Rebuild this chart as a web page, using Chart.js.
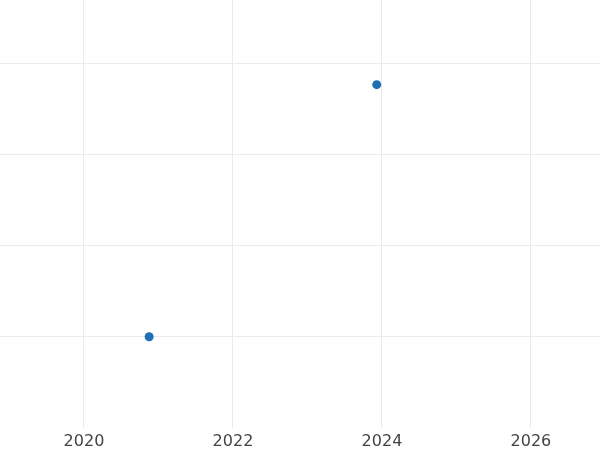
<!DOCTYPE html>
<html>
<head>
<meta charset="utf-8">
<script src="https://cdn.jsdelivr.net/npm/chart.js@4"></script>
<style>
html,body{margin:0;padding:0;background:#fff;}
#wrap{width:600px;height:450px;}
</style>
</head>
<body>
<div id="wrap"><canvas id="c" width="600" height="450"></canvas></div>
<script>
const years = [2020.875, 2023.93];
const values = [-1, 1.77];
const xTicks = [2020, 2022, 2024, 2026];

const points = years.map((x, i) => ({x: x, y: values[i]}));

new Chart(document.getElementById('c'), {
  type: 'scatter',
  data: {
    datasets: [{
      data: points,
      backgroundColor: '#1f6fb4',
      borderColor: '#1f6fb4',
      pointRadius: 4.5,
      pointHoverRadius: 4.5,
      borderWidth: 0
    }]
  },
  options: {
    responsive: false,
    animation: false,
    layout: {padding: {left: 0, right: 0, top: 0, bottom: -5}, autoPadding: false},
    plugins: {legend: {display: false}, tooltip: {enabled: false}},
    scales: {
      x: {
        type: 'linear',
        min: 2018.873,
        max: 2026.927,
        border: {display: false},
        grid: {color: '#ebebeb', lineWidth: 1, drawTicks: false},
        afterBuildTicks: (axis) => { axis.ticks = xTicks.map(v => ({value: v})); },
        ticks: {
          padding: 4,
          color: '#444444',
          font: {family: 'DejaVu Sans', size: 16},
          maxRotation: 0,
          callback: (v) => String(v)
        }
      },
      y: {
        type: 'linear',
        min: -2.0,
        max: 2.7,
        border: {display: false},
        grid: {color: '#ebebeb', lineWidth: 1, drawTicks: false},
        afterBuildTicks: (axis) => { axis.ticks = [-1, 0, 1, 2].map(v => ({value: v})); },
        ticks: {display: false}
      }
    }
  }
});
</script>
</body>
</html>
